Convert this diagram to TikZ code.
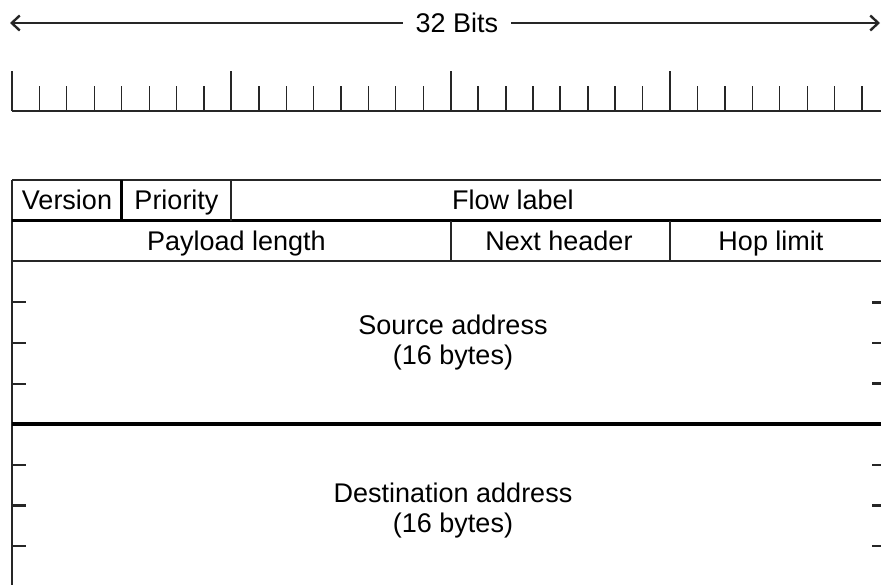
\documentclass[tikz,border=0pt]{standalone}
\usepackage{fontspec}
\setmainfont{Liberation Sans}
\usetikzlibrary{arrows.meta}

% one bit of the header is \bw units wide; the table starts at x = 12
\newcommand{\bw}{27.42}
\newcommand{\xo}{12}

\tikzset{
  lbl/.style={inner sep=0pt, anchor=base, font=\fontsize{27}{32}\selectfont},
  rule/.style={line width=2pt, black!85},
  thinrule/.style={line width=1.2pt, black!85},
  heavyrule/.style={line width=3pt, black},
  splitrule/.style={line width=4pt, black},
  dimarrow/.style={line width=1.6pt, black!85,
    -{Straight Barb[length=8pt,width=15pt,line width=2.4pt]}},
}

\begin{document}
\begin{tikzpicture}[x=1pt,y=-1pt]
\useasboundingbox (0,0) rectangle (881,584);
\clip (0,0) rectangle (881,584);

% ---- width indicator ----
\coordinate (arrL) at (10,23);
\coordinate (arrR) at (880,23);
\node[font=\fontsize{27}{32}\selectfont, inner xsep=13pt, inner ysep=2pt] (bits) at (457,23) {32 Bits};
\draw[dimarrow] (bits) -- (arrL);
\draw[dimarrow] (bits) -- (arrR);

% ---- bit ruler ----
\coordinate (rulerL) at (\xo,111);
\coordinate (rulerR) at (890,111);
\draw[rule] (rulerL) -- (rulerR);
\foreach \k in {1,...,7,10,11,12,13,14,15,23,25,26,27,28,29,30,31}
  \draw[thinrule] ({\xo+\k*\bw},111) -- ({\xo+\k*\bw},86);
\foreach \k in {9,17,18,19,20,21,22}
  \draw[rule] ({\xo+\k*\bw},111) -- ({\xo+\k*\bw},86);
\foreach \k in {0,24}
  \draw[thinrule] ({\xo+\k*\bw},111) -- ({\xo+\k*\bw},71);
\foreach \k in {8,16}
  \draw[rule] ({\xo+\k*\bw},111) -- ({\xo+\k*\bw},71);

% ---- header table ----
\coordinate (tl) at (\xo,180);
\coordinate (tr) at ({\xo+32*\bw},180);
\coordinate (bl) at (\xo,600);
\coordinate (br) at ({\xo+32*\bw},600);
\draw[rule] (tl) -- (tr);
\draw[rule] (tl) -- (bl);
\draw[rule] (tr) -- (br);

% row separators
\draw[heavyrule] (\xo,220.7) -- ({\xo+32*\bw},220.7);
\draw[rule] (\xo,261.4) -- ({\xo+32*\bw},261.4);
\draw[splitrule] (\xo,424.2) -- ({\xo+32*\bw},424.2);

% field separators
\draw[heavyrule] ({\xo+4*\bw},180) -- ({\xo+4*\bw},220.7);
\draw[rule] ({\xo+8*\bw},180) -- ({\xo+8*\bw},220.7);
\draw[rule] ({\xo+16*\bw},220.7) -- ({\xo+16*\bw},261.4);
\draw[rule] ({\xo+24*\bw},220.7) -- ({\xo+24*\bw},261.4);

% 32-bit word marks along the address blocks
\foreach \y/\w in {302/2, 342.8/2, 383.5/2, 465/2, 505.6/3, 546.3/2}
  \draw[line width=\w pt, black!85] (\xo,\y) -- (26,\y);
\foreach \y/\w in {302/3, 342.8/2, 383.5/3, 465/2, 505.6/3, 546.3/2}
  \draw[line width=\w pt, black!85] (872,\y) -- ({\xo+32*\bw},\y);

% field labels (placed by their baselines)
\node[lbl] (version)  at (67,209)    {Version};
\node[lbl] (priority) at (176.5,209) {Priority};
\node[lbl] (flow)     at (513,209)   {Flow label};
\node[lbl] (payload)  at (236.5,250) {Payload length};
\node[lbl] (next)     at (559,250)   {Next header};
\node[lbl] (hop)      at (771,250)   {Hop limit};
\node[lbl] (src)      at (453,334)   {Source address};
\node[lbl] (srcsize)  at (453,364)   {(16 bytes)};
\node[lbl] (dst)      at (453,502)   {Destination address};
\node[lbl] (dstsize)  at (453,532)   {(16 bytes)};
\end{tikzpicture}
\end{document}
